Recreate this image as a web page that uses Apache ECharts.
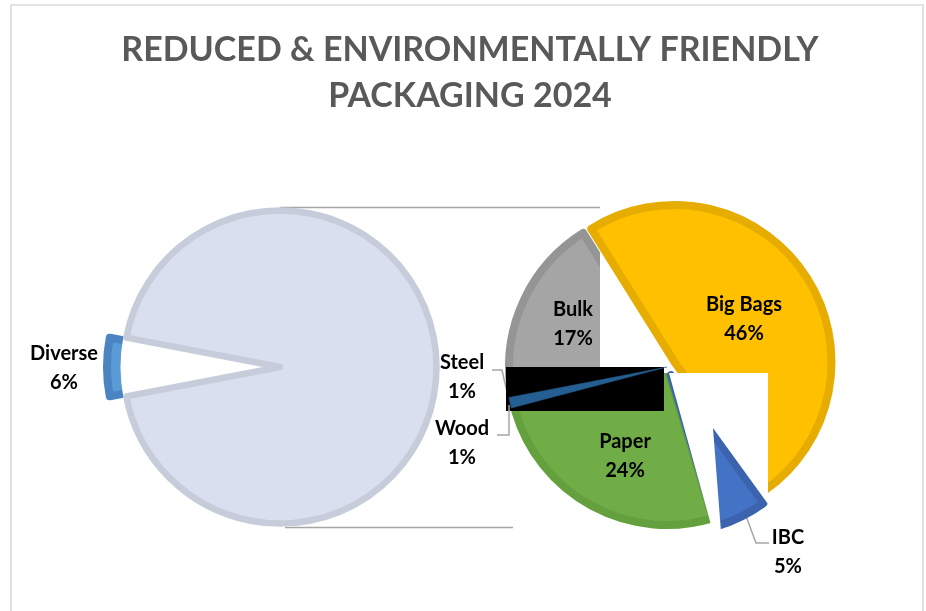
<!DOCTYPE html>
<html>
<head>
<meta charset="utf-8">
<script src="https://cdn.jsdelivr.net/npm/echarts@6/dist/echarts.min.js"></script>
<style>
  html, body { margin: 0; padding: 0; background: #ffffff; }
  #chart { width: 926px; height: 611px; }
</style>
</head>
<body>
<div id="chart"></div>
<script>
// Chart data
const titleLines = ['REDUCED & ENVIRONMENTALLY FRIENDLY', 'PACKAGING 2024'];
const splitNames = ['Diverse', 'Other'];
const splitValues = [6, 94];
const detailNames = ['Big Bags', 'IBC', 'Paper', 'Wood', 'Steel', 'Bulk'];
const detailValues = [46, 5, 24, 1, 1, 17];

// Styling
const FONT = 'Lato';
const detailFill = {
  'Big Bags': '#FFC000', 'IBC': '#4472C4', 'Paper': '#70AD47',
  'Wood': '#255E91', 'Steel': '#9E480E', 'Bulk': '#A5A5A5'
};
const detailBorder = {
  'Big Bags': '#E6AC00', 'IBC': '#3B63AE', 'Paper': '#65A03F',
  'Wood': '#255E91', 'Steel': '#9E480E', 'Bulk': '#959595'
};
const detailBorderWidth = {
  'Big Bags': 8, 'IBC': 8, 'Paper': 8, 'Wood': 0.5, 'Steel': 0.5, 'Bulk': 8
};
const outsideLabels = ['Steel', 'Wood', 'IBC', 'Diverse'];

// Geometry of the two pies
const leftCenter = [280, 367];
const leftRadius = 156.5;
const rightCenter = [667, 367];
const rightRadius = 158;
const rightStart = 122;

// Label anchors and leader lines
const labelAnchor = {
  'Diverse': [64, 368], 'Big Bags': [744, 319], 'Bulk': [573, 324],
  'Paper': [625, 456], 'Steel': [462, 377], 'Wood': [462, 443], 'IBC': [788, 552]
};
const leaderPoints = {
  'Steel': [[507, 392], [502, 370], [492, 370]],
  'Wood': [[509, 405], [509, 435], [497, 435]],
  'IBC': [[746, 516], [756, 543], [769, 543]]
};

const hidden = { color: 'rgba(0,0,0,0)', borderWidth: 0 };
const labelText = {
  formatter: '{b}\n{c}%', fontFamily: FONT, fontWeight: 'bold',
  fontSize: 20, lineHeight: 29, color: '#000000'
};

function sum(arr) { return arr.reduce((a, b) => a + b, 0); }

// Centre of a slice pulled out along its mid-angle
function pulledCenter(center, values, index, start, dist) {
  const before = sum(values.slice(0, index));
  const mid = start - (before + values[index] / 2) / sum(values) * 360;
  const rad = mid * Math.PI / 180;
  return [center[0] + dist * Math.cos(rad), center[1] - dist * Math.sin(rad)];
}

function placeLabel(names) {
  return function (params) {
    const name = names[params.dataIndex];
    const pos = labelAnchor[name];
    if (!pos) return {};
    const out = { x: pos[0], y: pos[1], align: 'center', verticalAlign: 'middle' };
    if (leaderPoints[name]) out.labelLinePoints = leaderPoints[name];
    return out;
  };
}

function detailData(visible, labelled) {
  return detailNames.map((name, i) => {
    const show = visible.includes(name);
    const hasLabel = labelled.includes(name);
    const outside = outsideLabels.includes(name);
    return {
      name: name,
      value: detailValues[i],
      itemStyle: show
        ? { color: detailFill[name], borderColor: detailBorder[name], borderWidth: detailBorderWidth[name] }
        : hidden,
      label: { show: hasLabel, position: outside ? 'outside' : 'inside' },
      labelLine: { show: hasLabel && outside }
    };
  });
}

const commonPie = {
  type: 'pie',
  clockwise: true,
  avoidLabelOverlap: false,
  silent: true,
  animation: false,
  emphasis: { disabled: true },
  label: Object.assign({ show: true }, labelText),
  labelLine: { lineStyle: { color: '#A6A6A6', width: 1.5 }, length: 5, length2: 5 }
};

function detailSeries(name, z, center, radius, visible, labelled) {
  return Object.assign({}, commonPie, {
    name: name, z: z, center: center, radius: radius,
    startAngle: rightStart,
    labelLayout: placeLabel(detailNames),
    data: detailData(visible, labelled)
  });
}

// Left pie: Diverse pulled out, the rest summarised
const leftStart = 180 + splitValues[0] / sum(splitValues) * 180;

const series = [
  Object.assign({}, commonPie, {
    name: 'split-out', z: 2,
    center: pulledCenter(leftCenter, splitValues, 0, leftStart, 16.5),
    radius: leftRadius, startAngle: leftStart,
    data: [
      { name: splitNames[0], value: splitValues[0],
        itemStyle: { color: '#5B9BD5', borderColor: '#4A84C2', borderWidth: 8 },
        label: { show: false }, labelLine: { show: false } },
      { name: splitNames[1], value: splitValues[1], itemStyle: hidden,
        label: { show: false }, labelLine: { show: false } }
    ]
  }),
  Object.assign({}, commonPie, {
    name: 'split-body', z: 3,
    center: leftCenter, radius: leftRadius, startAngle: leftStart,
    labelLayout: placeLabel(splitNames),
    data: [
      { name: splitNames[0], value: splitValues[0],
        itemStyle: { color: '#FFFFFF', borderColor: '#FFFFFF', borderWidth: 6 },
        label: { show: true, position: 'outside' }, labelLine: { show: false } },
      { name: splitNames[1], value: splitValues[1],
        itemStyle: { color: '#D9DFEE', borderColor: '#C6CCDA', borderWidth: 6.5, borderMiterLimit: 20 },
        label: { show: false }, labelLine: { show: false } }
    ]
  }),
  // Right pie: slices that stay in place
  detailSeries('detail-base', 2, rightCenter, rightRadius,
    ['Paper', 'Steel', 'Bulk'], ['Paper', 'Steel', 'Bulk', 'IBC']),
  // Right pie: pulled-out slices and the thin Wood slice
  detailSeries('detail-bigbags', 4,
    pulledCenter(rightCenter, detailValues, 0, rightStart, 9), rightRadius - 1,
    ['Big Bags'], ['Big Bags']),
  detailSeries('detail-ibc', 4,
    pulledCenter(rightCenter, detailValues, 1, rightStart, 9), rightRadius,
    ['IBC'], []),
  detailSeries('detail-wood', 4, rightCenter, rightRadius + 3,
    ['Wood'], ['Wood'])
];

const leftTop = leftCenter[1] - leftRadius - 3;
const leftBottom = leftCenter[1] + leftRadius + 3;

const chart = echarts.init(document.getElementById('chart'), null, { renderer: 'canvas' });
chart.setOption({
  backgroundColor: '#FFFFFF',
  animation: false,
  title: {
    text: titleLines.join('\n'),
    left: 470, top: 27,
    textAlign: 'center',
    padding: 0,
    textStyle: { fontFamily: FONT, fontWeight: 'bold', fontSize: 34, lineHeight: 46, color: '#595959' }
  },
  graphic: [
    { type: 'rect', z: 0, silent: true,
      shape: { x: 11, y: 5, width: 912, height: 640 },
      style: { fill: null, stroke: '#D9D9D9', lineWidth: 1.5 } },
    { type: 'line', z: 1, silent: true,
      shape: { x1: leftCenter[0], y1: leftTop, x2: 600, y2: leftTop },
      style: { stroke: '#A6A6A6', lineWidth: 1.5 } },
    { type: 'line', z: 1, silent: true,
      shape: { x1: leftCenter[0] + 5, y1: leftBottom + 1, x2: 513, y2: leftBottom + 1 },
      style: { stroke: '#A6A6A6', lineWidth: 1.5 } },
    { type: 'rect', z: 3, silent: true,
      shape: { x: 600, y: 200, width: 100, height: 173 },
      style: { fill: '#FFFFFF' } },
    { type: 'rect', z: 3, silent: true,
      shape: { x: 506, y: 367, width: 158, height: 44 },
      style: { fill: '#000000' } },
    { type: 'polygon', z: 5, silent: true,
      shape: { points: [[669, 373], [768, 373], [768, 504], [713, 428], [721, 532], [713, 532]] },
      style: { fill: '#FFFFFF' } }
  ],
  series: series
});
</script>
</body>
</html>
